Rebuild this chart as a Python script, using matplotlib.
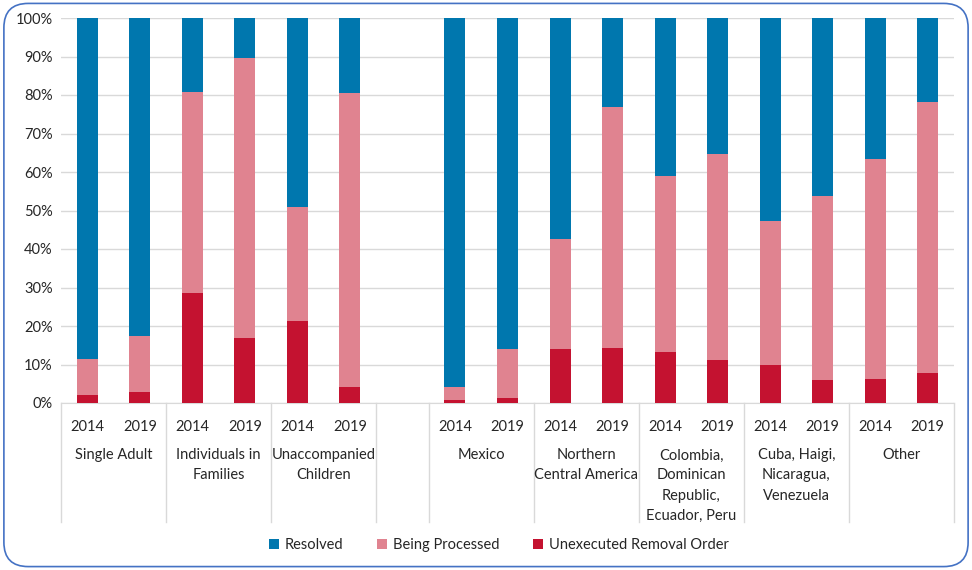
import matplotlib.pyplot as plt
from matplotlib.patches import FancyBboxPatch
from matplotlib.ticker import PercentFormatter
import matplotlib.transforms as mtransforms

plt.rcParams['font.family'] = ['Lato', 'DejaVu Sans']

# Datos (porcentajes)
groups = ['Single Adult', 'Individuals in\nFamilies', 'Unaccompanied\nChildren', '',
          'Mexico', 'Northern\nCentral America', 'Colombia,\nDominican\nRepublic,\nEcuador, Peru',
          'Cuba, Haigi,\nNicaragua,\nVenezuela', 'Other']
group_sizes = [2, 2, 2, 1, 2, 2, 2, 2, 2]
years = ['2014', '2019']
slots = [0, 1, 2, 3, 4, 5, 7, 8, 9, 10, 11, 12, 13, 14, 15, 16]

unexecuted = [2.0, 2.8, 28.7, 16.8, 21.3, 4.2, 0.9, 1.2, 14.1, 14.2, 13.3, 11.1, 9.9, 5.9, 6.3, 7.9]
processing = [9.5, 14.6, 52.2, 72.7, 29.7, 76.4, 3.2, 12.7, 28.4, 62.8, 45.6, 53.7, 37.5, 47.9, 57.1, 70.2]
resolved = [88.5, 82.6, 19.1, 10.5, 49.0, 19.4, 95.9, 86.1, 57.5, 23.0, 41.1, 35.2, 52.6, 46.2, 36.6, 21.9]

c_res = '#0077AE'
c_proc = '#E08390'
c_unex = '#C41230'
grid_c = '#D9D9D9'
txt_c = '#262626'

fig = plt.figure(figsize=(9.72, 5.70), dpi=100)
ax = fig.add_axes([61/972, 1 - 403/570, (954 - 61)/972, (403 - 18)/570])

w = 0.4
u = [v / 100 for v in unexecuted]
p = [v / 100 for v in processing]
r = [v / 100 for v in resolved]
bot2 = [a + b for a, b in zip(u, p)]
ax.bar(slots, r, w, bottom=bot2, color=c_res, label='Resolved', zorder=3)
ax.bar(slots, p, w, bottom=u, color=c_proc, label='Being Processed', zorder=3)
ax.bar(slots, u, w, color=c_unex, label='Unexecuted Removal Order', zorder=3)

ax.set_xlim(-0.5, 16.5)
ax.set_ylim(0, 1)
ax.set_yticks([i / 10 for i in range(11)])
ax.yaxis.set_major_formatter(PercentFormatter(1.0, decimals=0))
ax.grid(axis='y', color=grid_c, linewidth=1, zorder=0)
for s in ['top', 'right', 'left']:
    ax.spines[s].set_visible(False)
ax.spines['bottom'].set_color(grid_c)
ax.tick_params(axis='y', length=0, labelsize=10.5, colors=txt_c, pad=6)
ax.tick_params(axis='x', length=0, labelsize=10.5, colors=txt_c, pad=12)
ax.set_xticks(slots)
ax.set_xticklabels([years[i % 2] for i in range(len(slots))])

# Etiquetas de grupo y separadores
trans = mtransforms.blended_transform_factory(ax.transData, ax.transAxes)
start = -0.5
seps = [start]
for g, n in zip(groups, group_sizes):
    center = start + n / 2
    if g:
        ax.text(center, -0.118, g, transform=trans, ha='center', va='top',
                fontsize=10.5, color=txt_c, linespacing=1.55)
    start += n
    seps.append(start)
for x in seps:
    ax.plot([x, x], [0, -0.31], transform=trans, color=grid_c, lw=1, clip_on=False)

handles, labels = ax.get_legend_handles_labels()
fig.legend(handles, labels, loc='center', bbox_to_anchor=(0.513, 1 - 545/570), ncol=3,
           frameon=False, handlelength=0.7, handleheight=0.7, handletextpad=0.4,
           columnspacing=2.3, fontsize=10.5, labelcolor=txt_c)

border = FancyBboxPatch((0.004, 0.006), 0.992, 0.988, boxstyle='round,pad=0,rounding_size=0.025',
                        transform=fig.transFigure, facecolor='none', edgecolor='#4472C4',
                        linewidth=1.2, mutation_aspect=972/570)
fig.patches.append(border)

fig.savefig('out.png', dpi=100)
